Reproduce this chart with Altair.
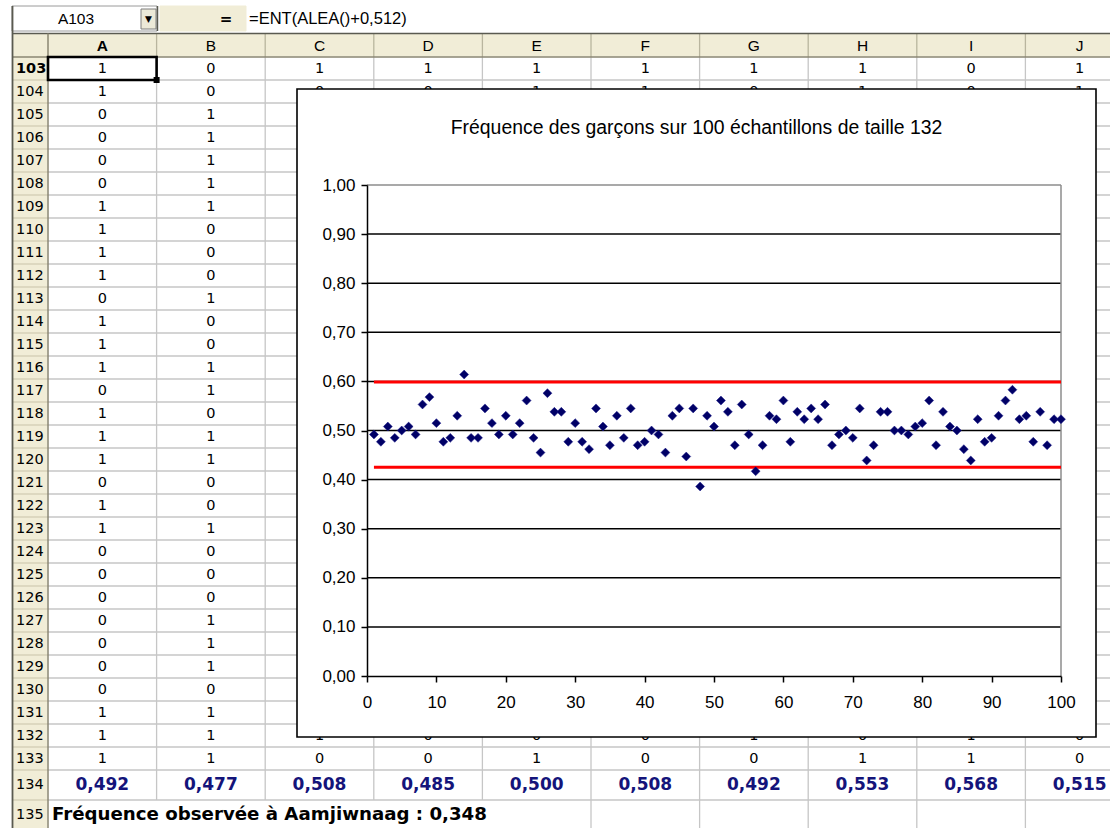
import altair as alt
import pandas as pd

# ------------------------------------------------------------------ data
col_letters = list("ABCDEFGHIJ")
sheet_rows = list(range(103, 136))          # visible row numbers 103..135
col_a = [1, 1, 0, 0, 0, 0, 1, 1, 1, 1, 0, 1, 1, 1, 0, 1, 1, 1, 0, 1, 1, 0, 0, 0, 0, 0, 0, 0, 1, 1, 1]
col_b = [0, 0, 1, 1, 1, 1, 1, 0, 0, 0, 1, 0, 0, 1, 1, 0, 1, 1, 0, 0, 1, 0, 0, 0, 1, 1, 1, 0, 1, 1, 1]
row103_c_to_j = [1, 1, 1, 1, 1, 1, 0, 1]
row104_c_to_j = [0, 0, 1, 1, 0, 1, 0, 1]
row132_c_to_j = [1, 0, 0, 0, 1, 0, 1, 0]
row133_c_to_j = [0, 0, 1, 0, 0, 1, 1, 0]
row134_freq = ["0,492", "0,477", "0,508", "0,485", "0,500", "0,508", "0,492", "0,553", "0,568", "0,515"]
row135_text = "Fréquence observée à Aamjiwnaag : 0,348"
name_box = "A103"
formula_text = "=ENT(ALEA()+0,512)"
chart_title = "Fréquence des garçons sur 100 échantillons de taille 132"

sample_no = list(range(1, 101))
sample_freq = [
    0.492, 0.477, 0.508, 0.485, 0.500, 0.508, 0.492, 0.553, 0.568, 0.515,
    0.477, 0.485, 0.530, 0.614, 0.485, 0.485, 0.545, 0.515, 0.492, 0.530,
    0.492, 0.515, 0.561, 0.485, 0.455, 0.576, 0.538, 0.538, 0.477, 0.515,
    0.477, 0.462, 0.545, 0.508, 0.470, 0.530, 0.485, 0.545, 0.470, 0.477,
    0.500, 0.492, 0.455, 0.530, 0.545, 0.447, 0.545, 0.386, 0.530, 0.508,
    0.561, 0.538, 0.470, 0.553, 0.492, 0.417, 0.470, 0.530, 0.523, 0.561,
    0.477, 0.538, 0.523, 0.545, 0.523, 0.553, 0.470, 0.492, 0.500, 0.485,
    0.545, 0.439, 0.470, 0.538, 0.538, 0.500, 0.500, 0.492, 0.508, 0.515,
    0.561, 0.470, 0.538, 0.508, 0.500, 0.462, 0.439, 0.523, 0.477, 0.485,
    0.530, 0.561, 0.583, 0.523, 0.530, 0.477, 0.538, 0.470, 0.523, 0.523,
]
limit_values = [0.599, 0.425]
x_ticks = list(range(0, 101, 10))
y_ticks = [0.0, 0.1, 0.2, 0.3, 0.4, 0.5, 0.6, 0.7, 0.8, 0.9, 1.0]
grid_values = [0.1, 0.2, 0.3, 0.4, 0.5, 0.6, 0.7, 0.8, 0.9]

# ------------------------------------------------------------------ layout (pixels)
W, H = 1110, 828
RH_X0, RH_X1 = 12.5, 48.0          # row-header strip
COL_W = 108.6
HDR_Y0, HDR_Y1 = 33.5, 57.0        # column-header strip
ROW_H = 23.0
R134 = (770.0, 800.0)
R135 = (800.0, 829.0)
BOX = (297.0, 89.0, 1096.0, 737.0)
PLOT_X = [367, 1061]
PLOT_Y = [676, 185]

HEADER_FILL = "#f1edd7"
GRID_GREY = "#c6c6c6"


def col_left(j):
    return RH_X1 + j * COL_W


def col_center(j):
    return RH_X1 + (j + 0.5) * COL_W


def row_top(r):
    if r <= 133:
        return HDR_Y1 + (r - 103) * ROW_H
    return R134[0] if r == 134 else R135[0]


def row_bottom(r):
    if r <= 133:
        return row_top(r) + ROW_H
    return R134[1] if r == 134 else R135[1]


def row_center(r):
    return (row_top(r) + row_bottom(r)) / 2


NONE = dict(scale=None, axis=None)

# ------------------------------------------------------------------ sheet: rectangles
rects = [
    dict(x=0, x2=W, y=0, y2=HDR_Y0, fill="#ffffff", stroke="#ffffff"),
    dict(x=12, x2=157, y=6, y2=31, fill="#ffffff", stroke="#9a9a9a"),
    dict(x=141, x2=156, y=9, y2=29, fill="#ece9d8", stroke="#7f7f7f"),
    dict(x=160, x2=246, y=6, y2=31, fill=HEADER_FILL, stroke=HEADER_FILL),
    dict(x=RH_X0, x2=W, y=HDR_Y0, y2=HDR_Y1, fill=HEADER_FILL, stroke=HEADER_FILL),
    dict(x=RH_X0, x2=RH_X1, y=HDR_Y1, y2=H, fill=HEADER_FILL, stroke=HEADER_FILL),
    dict(x=RH_X1, x2=W, y=HDR_Y1, y2=H, fill="#ffffff", stroke="#ffffff"),
]
rect_df = pd.DataFrame(rects)
rect_layer = alt.Chart(rect_df).mark_rect(strokeWidth=1).encode(
    x=alt.X("x:Q", **NONE), x2="x2:Q",
    y=alt.Y("y:Q", **NONE), y2="y2:Q",
    color=alt.Color("fill:N", scale=None),
    stroke=alt.Stroke("stroke:N", scale=None),
)

# ------------------------------------------------------------------ sheet: lines
lines = []
for r in sheet_rows:
    yb = row_bottom(r)
    lines.append(dict(x=RH_X1, x2=W, y=yb, y2=yb, c=GRID_GREY, w=1.3))
    lines.append(dict(x=RH_X0, x2=RH_X1, y=yb, y2=yb, c="#d6d1b8", w=1.3))
for j in range(1, 10):
    x = col_left(j)
    lines.append(dict(x=x, x2=x, y=HDR_Y1, y2=R134[1], c=GRID_GREY, w=1.3))
    if x > 560:
        lines.append(dict(x=x, x2=x, y=R135[0], y2=H, c=GRID_GREY, w=1.3))
    lines.append(dict(x=x, x2=x, y=HDR_Y0, y2=HDR_Y1, c="#b9b59e", w=1.3))
lines.append(dict(x=RH_X0, x2=W, y=HDR_Y0, y2=HDR_Y0, c="#5a5a50", w=1.5))
lines.append(dict(x=RH_X0, x2=W, y=HDR_Y1, y2=HDR_Y1, c="#8a8672", w=1.5))
lines.append(dict(x=RH_X1, x2=RH_X1, y=HDR_Y0, y2=H, c="#8a8672", w=1.5))
lines.append(dict(x=RH_X0, x2=RH_X0, y=6, y2=H, c="#5a5a50", w=1.8))
lines.append(dict(x=157.5, x2=157.5, y=6, y2=31, c="#5a5a50", w=1.5))
line_df = pd.DataFrame(lines)
line_layer = alt.Chart(line_df).mark_rule().encode(
    x=alt.X("x:Q", **NONE), x2="x2:Q",
    y=alt.Y("y:Q", **NONE), y2="y2:Q",
    color=alt.Color("c:N", scale=None),
    strokeWidth=alt.StrokeWidth("w:Q", scale=None),
)

# ------------------------------------------------------------------ sheet: texts
cell_txt = []
for i, r in enumerate(range(103, 134)):
    cell_txt.append(dict(x=col_center(0), y=row_center(r), t=str(col_a[i])))
    cell_txt.append(dict(x=col_center(1), y=row_center(r), t=str(col_b[i])))
for r, vals in [(103, row103_c_to_j), (104, row104_c_to_j), (132, row132_c_to_j), (133, row133_c_to_j)]:
    for k, v in enumerate(vals):
        cell_txt.append(dict(x=col_center(k + 2), y=row_center(r), t=str(v)))
rownum_txt = [dict(x=RH_X0 + 3.5, y=row_center(r), t=str(r)) for r in sheet_rows if r != 103]
colhdr_txt = [dict(x=col_center(j), y=(HDR_Y0 + HDR_Y1) / 2 + 1, t=c) for j, c in enumerate(col_letters) if c != "A"]
freq_txt = [dict(x=col_center(j), y=row_center(134), t=f) for j, f in enumerate(row134_freq)]


def text_layer(rows_, font, size, weight="normal", align="center", color="#000000", baseline="middle"):
    return alt.Chart(pd.DataFrame(rows_)).mark_text(
        font=font, fontSize=size, fontWeight=weight, align=align, baseline=baseline, color=color
    ).encode(x=alt.X("x:Q", **NONE), y=alt.Y("y:Q", **NONE), text="t:N")


texts = [
    text_layer(cell_txt, "DejaVu Sans", 14.5),
    text_layer(rownum_txt, "DejaVu Sans", 14.5, align="left"),
    text_layer([dict(x=RH_X0 + 3.5, y=row_center(103), t="103")], "DejaVu Sans", 14.5, weight="bold", align="left"),
    text_layer(colhdr_txt, "Liberation Sans", 15.5),
    text_layer([dict(x=col_center(0), y=(HDR_Y0 + HDR_Y1) / 2 + 1, t="A")], "Liberation Sans", 15.5, weight="bold"),
    text_layer(freq_txt, "DejaVu Sans", 17, weight="bold", color="#14147a"),
    text_layer([dict(x=RH_X1 + 4, y=row_center(135), t=row135_text)], "DejaVu Sans", 18.2, weight="bold", align="left"),
    text_layer([dict(x=76, y=19, t=name_box)], "Liberation Sans", 15.5),
    text_layer([dict(x=148.5, y=19, t="▼")], "DejaVu Sans", 9),
    text_layer([dict(x=226, y=19, t="=")], "DejaVu Sans", 15, weight="bold"),
    text_layer([dict(x=249, y=19, t=formula_text)], "Liberation Sans", 16.5, align="left"),
]

sel_df = pd.DataFrame([dict(x=col_left(0), x2=col_left(1), y=row_top(103), y2=row_bottom(103))])
sel_layer = alt.Chart(sel_df).mark_rect(fill=None, fillOpacity=0, stroke="#000000", strokeWidth=2.6).encode(
    x=alt.X("x:Q", **NONE), x2="x2:Q", y=alt.Y("y:Q", **NONE), y2="y2:Q"
)
handle_df = pd.DataFrame([dict(x=col_left(1) - 3, x2=col_left(1) + 3, y=row_bottom(103) - 3, y2=row_bottom(103) + 3)])
handle_layer = alt.Chart(handle_df).mark_rect(color="#000000").encode(
    x=alt.X("x:Q", **NONE), x2="x2:Q", y=alt.Y("y:Q", **NONE), y2="y2:Q"
)

box_df = pd.DataFrame([dict(x=BOX[0], x2=BOX[2], y=BOX[1], y2=BOX[3])])
box_layer = alt.Chart(box_df).mark_rect(fill="#ffffff", stroke="#000000", strokeWidth=1.6).encode(
    x=alt.X("x:Q", **NONE), x2="x2:Q", y=alt.Y("y:Q", **NONE), y2="y2:Q"
)
title_layer = text_layer([dict(x=(BOX[0] + BOX[2]) / 2, y=128, t=chart_title)], "Liberation Sans", 19.4)

sheet_layers = [rect_layer, line_layer, *texts, sel_layer, handle_layer, box_layer, title_layer]

# ------------------------------------------------------------------ scatter chart
sx = alt.Scale(domain=[0, 100], range=PLOT_X, nice=False, zero=False)
sy = alt.Scale(domain=[0, 1], range=PLOT_Y, nice=False, zero=False)
ax_x = alt.Axis(orient="bottom", offset=-(H - PLOT_Y[0]), values=x_ticks, labelExpr="format(datum.value, 'd')",
                domainColor="#000000", domainWidth=1.5, tickColor="#000000", tickWidth=1.5, tickSize=6,
                labelColor="#000000", labelFont="Liberation Sans", labelFontSize=17, labelPadding=12,
                grid=False, title=None, labelFlush=False, labelOverlap=False, zindex=2)
ax_y = alt.Axis(orient="left", offset=-PLOT_X[0], values=y_ticks,
                labelExpr="replace(format(datum.value, '.2f'), '.', ',')",
                domainColor="#000000", domainWidth=1.5, tickColor="#000000", tickWidth=1.5, tickSize=6,
                labelColor="#000000", labelFont="Liberation Sans", labelFontSize=17, labelPadding=6,
                grid=False, title=None, labelFlush=False, labelOverlap=False, zindex=2)

grid_df = pd.DataFrame({"v": grid_values, "x0": 0, "x1": 100})
grid_layer = alt.Chart(grid_df).mark_rule(color="#000000", strokeWidth=1.5).encode(
    x=alt.X("x0:Q", scale=sx, axis=None), x2="x1:Q", y=alt.Y("v:Q", scale=sy, axis=None)
)
top_df = pd.DataFrame({"v": [1.0], "x0": [0], "x1": [100]})
top_layer = alt.Chart(top_df).mark_rule(color="#8c8c8c", strokeWidth=1.5).encode(
    x=alt.X("x0:Q", scale=sx, axis=None), x2="x1:Q", y=alt.Y("v:Q", scale=sy, axis=None)
)
right_df = pd.DataFrame({"x": [100], "y0": [0.0], "y1": [1.0]})
right_layer = alt.Chart(right_df).mark_rule(color="#8c8c8c", strokeWidth=1.5).encode(
    x=alt.X("x:Q", scale=sx, axis=None), y=alt.Y("y0:Q", scale=sy, axis=None), y2="y1:Q"
)
lim_df = pd.DataFrame({"v": limit_values, "x0": 1, "x1": 100})
lim_layer = alt.Chart(lim_df).mark_rule(color="#ff0000", strokeWidth=3).encode(
    x=alt.X("x0:Q", scale=sx, axis=None), x2="x1:Q", y=alt.Y("v:Q", scale=sy, axis=None)
)
pts_df = pd.DataFrame({"n": sample_no, "f": sample_freq})
pts_layer = alt.Chart(pts_df).mark_point(shape="diamond", filled=True, size=80, color="#000066", opacity=1,
                                         stroke="#1a1a8a", strokeWidth=0.5).encode(
    x=alt.X("n:Q", scale=sx, axis=ax_x), y=alt.Y("f:Q", scale=sy, axis=ax_y)
)

chart = alt.layer(
    *sheet_layers, grid_layer, top_layer, right_layer, lim_layer, pts_layer
).resolve_scale(x="independent", y="independent").properties(
    width=W, height=H, autosize=alt.AutoSizeParams(type="none"), padding=0, background="#ffffff"
).configure_view(stroke=None)

chart.save("out.html", embed_options={"renderer": "svg", "actions": False})
